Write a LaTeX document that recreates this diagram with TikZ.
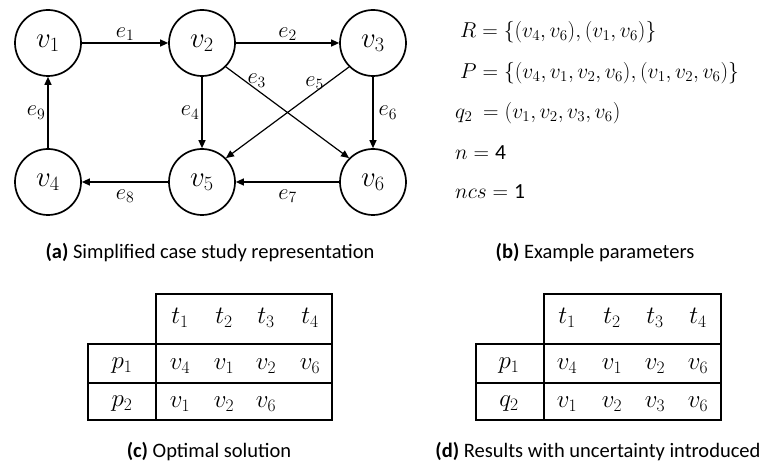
\RequirePackage{fix-cm}
\documentclass[tikz,border=0pt]{standalone}
\usepackage{fontspec}
\setmainfont{Carlito}
\usetikzlibrary{arrows.meta}
\begin{document}
\begin{tikzpicture}[x=1pt,y=-1pt,
  vert/.style={circle,draw,line width=1.7pt,minimum size=66pt,inner sep=0pt,font=\fontsize{29}{31}\selectfont},
  edge/.style={line width=1.2pt,-{Triangle[length=8pt,width=7pt]}},
  elab/.style={font=\fontsize{22.5}{24}\selectfont,inner sep=2pt},
  param/.style={anchor=west,font=\fontsize{21.5}{24}\selectfont,inner sep=0pt},
  captext/.style={font=\fontsize{20.5}{22}\selectfont,inner sep=0pt},
  tbl/.style={line width=1.6pt},
  cell/.style={font=\fontsize{25}{27}\selectfont,inner sep=0pt}]
\useasboundingbox (0,0) rectangle (764,465);
% graph
\node[vert] (v1) at (48,43) {$v_1$};
\node[vert] (v2) at (202,43) {$v_2$};
\node[vert] (v3) at (373,43) {$v_3$};
\node[vert] (v4) at (48,182) {$v_4$};
\node[vert] (v5) at (202,182) {$v_5$};
\node[vert] (v6) at (373,182) {$v_6$};
\draw[edge] (v1) -- node[elab,above] {$e_1$} (v2);
\draw[edge] (v2) -- node[elab,above] {$e_2$} (v3);
\draw[edge] (v2.-45) -- node[elab,pos=0.25,above] {$e_3$} (v6.135);
\draw[edge] (v2) -- node[elab,left] {$e_4$} (v5);
\draw[edge] (v3.-135) -- node[elab,pos=0.28,above] {$e_5$} (v5.45);
\draw[edge] (v3) -- node[elab,right=3pt] {$e_6$} (v6);
\draw[edge] (v6) -- node[elab,below=5pt] {$e_7$} (v5);
\draw[edge] (v5) -- node[elab,below=5pt] {$e_8$} (v4);
\draw[edge] (v4) -- node[elab,left] {$e_9$} (v1);
% parameters
\node[param] (pR) at (460,32) {$R=\{(v_4,v_6),(v_1,v_6)\}$};
\node[param] (pP) at (460,73) {$P=\{(v_4,v_1,v_2,v_6),(v_1,v_2,v_6)\}$};
\node[param] (pq) at (455,113) {$q_2\ =(v_1,v_2,v_3,v_6)$};
\node[param] (pn) at (455,153) {$n=\mbox{4}$};
\node[param] (pncs) at (455,192) {$ncs=\mbox{1}$};
% captions
\node[captext] (ca) at (210,253) {\textbf{(a)} Simplified case study representation};
\node[captext] (cb) at (595,253) {\textbf{(b)} Example parameters};
\node[captext] (cc) at (209,452) {\textbf{(c)} Optimal solution};
\node[captext] (cd) at (598,452) {\textbf{(d)} Results with uncertainty introduced};
% table c
\draw[tbl] (156,420) -- (156,294) -- (332,294) -- (332,420) -- (88,420) -- (88,344) -- (332,344);
\draw[tbl] (88,383) -- (332,383);
\node[cell] (ct1) at (180,318) {$t_1$};
\node[cell] (ct2) at (224,318) {$t_2$};
\node[cell] (ct3) at (266,318) {$t_3$};
\node[cell] (ct4) at (310,318) {$t_4$};
\node[cell] (cp1) at (122,366) {$p_1$};
\node[cell] (c11) at (180,366) {$v_4$};
\node[cell] (c12) at (224,366) {$v_1$};
\node[cell] (c13) at (266,366) {$v_2$};
\node[cell] (c14) at (310,366) {$v_6$};
\node[cell] (cp2) at (122,404) {$p_2$};
\node[cell] (c21) at (180,404) {$v_1$};
\node[cell] (c22) at (224,404) {$v_2$};
\node[cell] (c23) at (266,404) {$v_6$};
% table d
\draw[tbl] (544,420) -- (544,294) -- (721,294) -- (721,420) -- (476,420) -- (476,344) -- (721,344);
\draw[tbl] (476,383) -- (721,383);
\node[cell] (dt1) at (567,318) {$t_1$};
\node[cell] (dt2) at (612,318) {$t_2$};
\node[cell] (dt3) at (655,318) {$t_3$};
\node[cell] (dt4) at (698,318) {$t_4$};
\node[cell] (dp1) at (509,366) {$p_1$};
\node[cell] (d11) at (567,366) {$v_4$};
\node[cell] (d12) at (612,366) {$v_1$};
\node[cell] (d13) at (655,366) {$v_2$};
\node[cell] (d14) at (698,366) {$v_6$};
\node[cell] (dq2) at (509,404) {$q_2$};
\node[cell] (d21) at (567,404) {$v_1$};
\node[cell] (d22) at (612,404) {$v_2$};
\node[cell] (d23) at (655,404) {$v_3$};
\node[cell] (d24) at (698,404) {$v_6$};
\end{tikzpicture}
\end{document}
